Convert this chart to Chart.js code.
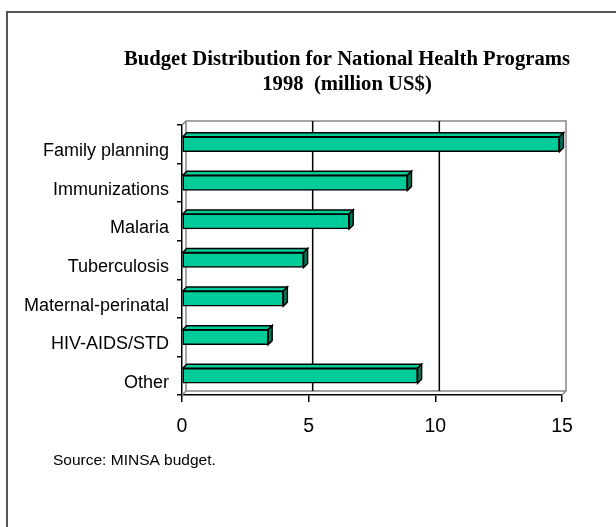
<!DOCTYPE html>
<html>
<head>
<meta charset="utf-8">
<script src="https://cdn.jsdelivr.net/npm/chart.js@4.4.1/dist/chart.umd.min.js"></script>
<style>
  html, body { margin:0; padding:0; background:#fff; }
  #wrap { width:616px; height:527px; position:relative; }
</style>
</head>
<body>
<div id="wrap"><canvas id="grafico"></canvas></div>
<script>
// ======= Dados =======
const programas = ['Family planning','Immunizations','Malaria','Tuberculosis','Maternal-perinatal','HIV-AIDS/STD','Other'];
const orcamento = [14.9, 8.9, 6.6, 4.8, 4.0, 3.4, 9.3];
const ticksX = [0, 5, 10, 15];
const titulo = ['Budget Distribution for National Health Programs', '1998  (million US$)'];
const fonte = 'Source: MINSA budget.';

const PROF = 4; // profundidade do efeito 3D
const VERDE = '#00CC99';
const VERDE_ESCURO = '#007A5C';

// ======= Moldura, título e fonte =======
const moldura = {
  id: 'moldura',
  beforeDraw(chart) {
    const ctx = chart.ctx;
    ctx.save();
    ctx.strokeStyle = '#555';
    ctx.lineWidth = 2;
    ctx.beginPath();
    ctx.moveTo(7, 527);
    ctx.lineTo(7, 12);
    ctx.lineTo(616, 12);
    ctx.stroke();
    ctx.restore();
  },
  afterDraw(chart) {
    const ctx = chart.ctx;
    ctx.save();
    ctx.fillStyle = '#000';
    ctx.textAlign = 'center';
    ctx.textBaseline = 'middle';
    ctx.font = 'bold 20.7px "Liberation Serif"';
    ctx.fillText(titulo[0], 347, 60);
    ctx.fillText(titulo[1], 347, 85);
    ctx.textAlign = 'left';
    ctx.font = '15.5px "Liberation Sans"';
    ctx.fillText(fonte, 53, 461);
    ctx.restore();
  }
};

// ======= Parede do fundo (grade) =======
const parede = {
  id: 'parede',
  beforeDatasetsDraw(chart) {
    const { ctx, chartArea: a, scales: { x } } = chart;
    ctx.save();
    ctx.lineWidth = 1.5;
    // parede esquerda e chão em cinza
    ctx.strokeStyle = '#888';
    ctx.beginPath();
    ctx.moveTo(a.left, a.top);
    ctx.lineTo(a.left + PROF, a.top - PROF);
    ctx.lineTo(a.right + PROF, a.top - PROF);
    ctx.lineTo(a.right + PROF, a.bottom - PROF);
    ctx.lineTo(a.right, a.bottom);
    ctx.moveTo(a.left + PROF, a.top - PROF);
    ctx.lineTo(a.left + PROF, a.bottom - PROF);
    ctx.lineTo(a.right + PROF, a.bottom - PROF);
    ctx.moveTo(a.left, a.bottom);
    ctx.lineTo(a.left + PROF, a.bottom - PROF);
    ctx.stroke();
    // linhas de grade no fundo
    ctx.strokeStyle = '#000';
    ticksX.slice(1, -1).forEach(v => {
      const px = x.getPixelForValue(v) + PROF;
      ctx.beginPath();
      ctx.moveTo(px, a.top - PROF);
      ctx.lineTo(px, a.bottom - PROF);
      ctx.stroke();
    });
    ctx.restore();
  },
  afterDatasetsDraw(chart) {
    // faces de cima e lateral das barras
    const ctx = chart.ctx;
    const meta = chart.getDatasetMeta(0);
    ctx.save();
    ctx.lineWidth = 1.5;
    ctx.strokeStyle = '#000';
    ctx.lineJoin = 'miter';
    meta.data.forEach(bar => {
      const topo = bar.y - bar.height / 2;
      const baixo = bar.y + bar.height / 2;
      ctx.fillStyle = VERDE;
      ctx.beginPath();
      ctx.moveTo(bar.base, topo);
      ctx.lineTo(bar.base + PROF, topo - PROF);
      ctx.lineTo(bar.x + PROF, topo - PROF);
      ctx.lineTo(bar.x, topo);
      ctx.closePath();
      ctx.fill();
      ctx.stroke();
      ctx.fillStyle = VERDE_ESCURO;
      ctx.beginPath();
      ctx.moveTo(bar.x, topo);
      ctx.lineTo(bar.x + PROF, topo - PROF);
      ctx.lineTo(bar.x + PROF, baixo - PROF);
      ctx.lineTo(bar.x, baixo);
      ctx.closePath();
      ctx.fill();
      ctx.stroke();
    });
    ctx.restore();
  }
};

// ======= Gráfico =======
new Chart(document.getElementById('grafico'), {
  type: 'bar',
  data: {
    labels: programas,
    datasets: [{
      data: orcamento,
      backgroundColor: VERDE,
      borderColor: '#000',
      borderWidth: 1.5,
      borderSkipped: false,
      barThickness: 15
    }]
  },
  options: {
    indexAxis: 'y',
    responsive: true,
    maintainAspectRatio: false,
    animation: false,
    layout: { padding: { top: 125, right: 54, bottom: 92, left: 0 } },
    plugins: { legend: { display: false }, tooltip: { enabled: false } },
    scales: {
      x: {
        min: 0, max: 15,
        afterBuildTicks: s => { s.ticks = ticksX.map(v => ({ value: v })); },
        afterFit: s => { s.height = 40; },
        grid: { drawOnChartArea: false, drawTicks: true, tickLength: 7, color: '#000', lineWidth: 1.5 },
        border: { display: true, color: '#000', width: 1.5 },
        ticks: { color: '#000', padding: 13, font: { family: 'Liberation Sans', size: 19.5 } }
      },
      y: {
        afterFit: s => { s.width = 182; },
        grid: { drawOnChartArea: false, drawTicks: true, tickLength: 5, color: '#000', lineWidth: 1.5, offset: true },
        border: { display: true, color: '#000', width: 1.5 },
        ticks: { color: '#000', padding: 8, labelOffset: 7, font: { family: 'Liberation Sans', size: 18 } }
      }
    }
  },
  plugins: [moldura, parede]
});
</script>
</body>
</html>
